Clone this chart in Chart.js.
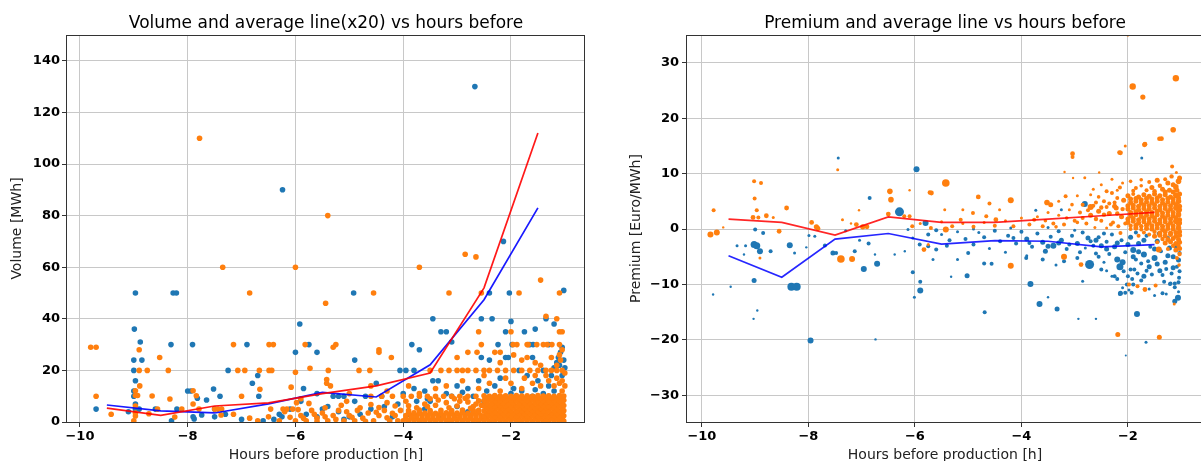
<!DOCTYPE html>
<html>
<head>
<meta charset="utf-8">
<script src="https://cdn.jsdelivr.net/npm/chart.js@4.4.1/dist/chart.umd.min.js"></script>
<style>
  body { margin: 0; background: #fff; width: 1201px; height: 461px; overflow: hidden; position: relative; }
  canvas { position: absolute; top: 0; }
  #volume { left: 0; }
  #premium { left: 600px; }
</style>
</head>
<body>
<canvas id="volume" width="600" height="461"></canvas>
<canvas id="premium" width="610" height="461"></canvas>
<script>
// hourly bins used for the average lines
const bins = [-9.5, -8.5, -7.5, -6.5, -5.5, -4.5, -3.5, -2.5, -1.5];
const volAvgRed = [5.4, 2.6, 6.2, 7.4, 11, 14, 19, 52, 112];
const volAvgBlue = [6.6, 4.3, 3.5, 7, 11.5, 9.7, 22.2, 47.4, 83];
const premAvgRed = [1.8, 1.2, -1.1, 2.2, 1.2, 1.2, 1.8, 2.4, 3.0];
const premAvgBlue = [-4.8, -8.7, -1.8, -0.8, -2.7, -2.1, -2.2, -3.2, -2.8];

const xTicks = [-10, -8, -6, -4, -2];
const volTicks = [0, 20, 40, 60, 80, 100, 120, 140];
const premTicks = [-30, -20, -10, 0, 10, 20, 30];

// volume scatter [hours, MWh]
const volBlue = [
  [-2.67,130],[-6.24,90],[-2.14,70],
  [-8.97,50],[-8.27,50],[-8.21,50],[-4.92,50],[-2.4,50],[-2.03,50],[-1.02,51],
  [-5.92,38],[-8.99,36],[-8.88,31],[-8.31,30],[-7.91,30],[-6.9,30],[-5.75,30],[-3.84,30],[-3.7,28],
  [-3.45,40],[-3.3,35],[-3.2,35],[-3.1,31],[-2.55,40],[-2.35,40],[-2.1,35],[-2.0,39],[-1.75,35],[-1.55,36],[-1.35,40],[-1.2,38],[-1.65,30],[-1.3,30],
  [-2.24,30],[-1.98,30],[-1.59,30],
  [-9.0,24],[-8.85,24],[-9.0,20],[-8.97,16],[-9.0,12],[-9.0,10],[-8.97,7],[-8.97,5],[-9.7,5],[-8.2,5],
  [-8.0,12],[-7.94,12],[-7.52,12.8],[-7.4,10],[-7.65,8.5],[-7.82,9.2],[-7.88,1.2],[-7.74,2.7],[-7.5,2],
  [-7.25,20],[-6.8,15],[-6.68,10],[-6.7,18],[-6.25,2],
  [-6.0,27],[-5.85,13],[-5.6,11],[-5.6,27],[-5.3,10],[-5.2,10],[-5.1,10],[-4.9,24],[-4.7,10],[-4.5,15],
  [-4.06,20],[-3.95,20],[-3.8,20],[-3.45,16],[-3.35,16],[-2.55,25],[-2.4,24],[-2.1,25],[-2.05,25],[-1.6,25],[-1.4,20],
  [-1.05,29],[-1.08,27],[-1.12,25],[-1.02,24],[-1.1,22],[-1.0,21],[-1.15,23],[-1.2,21],[-1.25,18],[-1.05,18],[-1.3,14],[-1.5,16],
  [-1.7,18],[-1.85,20],[-2.2,17],[-2.3,14],[-2.6,16],[-2.8,13],[-3.0,14],[-3.2,11],[-3.6,12],
  [-3.75,8],[-4.1,7],[-4.35,6],[-4.6,5],[-4.8,3],[-5.0,2],[-5.2,4],[-5.4,6],[-5.6,2],[-5.8,3],[-6.1,5],[-6.4,1],[-6.6,0.5],
  [-7.0,1],[-7.3,3],[-7.5,5],[-7.9,2],[-8.3,0.5],[-8.6,5],[-8.9,5],[-9.1,4],
  [-3.9,3],[-3.6,5],[-3.3,2],[-3.0,6],[-2.8,4],[-2.5,8],[-2.3,3],[-2.1,6],[-1.9,2],[-1.7,7],[-1.5,4],[-1.3,9],[-1.15,6],[-1.05,3],
  [-1.2,12],[-1.4,11],[-1.6,10],[-1.8,12],[-2.0,11],[-2.3,10],[-2.7,10],[-3.1,10],[-3.5,8],[-4.2,2],[-4.4,10],[-4.9,8],[-5.1,1],[-5.5,5],[-5.9,8],[-6.3,3],
  [-4.0,11],[-3.8,13],[-3.55,9],[-2.9,11.5],[-2.45,12],[-1.95,13],[-1.55,12.5]
];

const volOrange = [
  [-7.78,110],[-5.4,80],[-2.85,65],[-2.65,64],[-7.35,60],[-6.0,60],[-3.7,60],[-1.45,55],
  [-6.85,50],[-4.55,50],[-3.15,50],[-2.55,50],[-1.85,50],[-1.1,50],[-5.44,46],[-1.35,41],[-1.15,40],[-1.1,35],[-1.05,35],
  [-9.8,29],[-9.7,29],[-8.9,28],[-7.15,30],[-6.49,30],[-6.41,30],[-5.82,30],[-5.3,29],[-5.25,30],[-4.45,27],[-4.45,28],[-4.22,25],
  [-2.6,35],[-2.55,30],[-2.0,35],[-1.96,30],[-1.89,30],[-1.7,30],[-1.68,30],[-1.52,30],[-1.4,30],[-1.33,30],[-1.24,30],[-1.1,30],[-1.05,28],[-1.1,26],[-1.08,24],
  [-8.52,25],[-8.36,20],[-8.9,20],[-8.75,20],[-7.07,20],[-6.94,20],[-6.67,20],[-6.49,20],[-6.44,20],[-6.0,19.3],[-5.73,20.8],[-5.39,20],[-4.82,20],[-4.62,20],
  [-3.5,20],[-3.3,20],[-3.15,20],[-3.0,20],[-2.9,20],[-2.8,20],[-2.65,20],[-2.5,20],[-2.4,20],[-2.25,20],[-2.1,20],[-1.95,20],[-1.8,20],[-1.65,20],[-1.5,20],[-1.35,20],[-1.25,20],[-1.15,20],[-1.05,20],
  [-2.8,27],[-2.63,27],[-2.3,27],[-2.2,27],[-1.95,26],[-1.8,24],[-1.7,25],[-1.55,23],[-1.45,22],[-1.25,25],[-1.15,22],[-3.0,25],[-2.2,23],
  [-9.7,10],[-8.97,12.1],[-8.89,14],[-8.66,10.1],[-8.33,8.9],[-7.9,12.1],[-7.0,10],[-6.66,12.7],[-6.08,13.5],[-5.42,16.5],[-5.42,15],[-5.35,14],[-5.0,11],
  [-4.6,14],[-4.3,12],[-3.9,14],[-3.7,11],[-3.4,13],[-3.2,14],[-2.9,16],[-2.6,13],[-2.4,15],[-2.2,12],[-2.0,15],[-1.8,13],[-1.6,15],[-1.45,14],
  [-1.3,16],[-1.2,14],[-1.1,15],[-1.05,12],[-1.15,17],[-1.35,18],[-1.55,18],[-1.75,17],[-2.1,17],[-2.5,18],[-1.05,16],[-1.0,14],[-1.0,19],
  [-4.6,10],[-4.4,10],[-4.2,10],[-4.0,10],[-3.85,10],[-3.7,10],[-3.55,10],[-3.4,10],[-3.25,10],[-3.1,10],[-2.95,10],[-2.8,10],[-2.65,10],
  // sparse low area far from production
  [-9.42,3],[-9.0,0.5],[-8.97,2.3],[-8.97,3.5],[-8.97,6.2],[-8.97,10.3],[-8.93,10.3],[-8.72,3.2],[-8.56,5],[-8.24,1.9],[-8.11,5],
  [-7.9,7],[-7.84,10.2],[-7.79,5],[-7.5,5],[-7.44,5],[-7.37,5],[-7.38,2.7],[-6.46,5],[-6.23,5],[-6.16,5],[-6.05,5],[-5.98,7.5],
  [-5.9,9],[-6.85,1.5],[-7.15,3],[-6.7,0.5],
  // from -6 h to -4 h
  [-6.0,0.5],[-5.9,2.5],[-5.8,0.5],[-5.7,4.5],[-5.6,1.5],[-5.5,3.5],[-5.4,0.5],[-5.3,2.5],[-5.2,4.5],[-5.1,0.5],[-5.0,2.5],
  [-4.9,0.5],[-4.85,4.5],[-4.75,1.5],[-4.65,3.5],[-4.55,0.5],[-4.45,2.5],[-4.35,4.5],[-4.25,0.5],[-4.15,2.5],[-4.05,4.5],[-4.1,0.5],
  [-5.95,4.8],[-5.45,5.5],[-5.15,6.5],[-4.6,6.8],[-4.3,7.5],[-6.3,0.5],[-6.5,2],[-6.2,4],[-5.75,7.2],[-5.05,8],[-4.8,5.5],
  [-5.85,1.5],[-5.65,3],[-5.45,2],[-5.25,1],[-5.05,4],[-4.95,1.8],[-4.7,0.3],[-4.5,3.8],[-4.3,1.6],[-4.2,3.4],[-4.45,5.6],[-4.15,6.2],[-5.6,0.3],[-6.1,1.8],
  // from -4 h to -2.5 h
  [-4.0,0.5],[-3.9,0.5],[-3.8,0.5],[-3.7,0.5],[-3.6,0.5],[-3.5,0.5],[-3.4,0.5],[-3.3,0.5],[-3.2,0.5],[-3.1,0.5],[-3.0,0.5],[-2.9,0.5],[-2.8,0.5],[-2.7,0.5],[-2.6,0.5],
  [-3.95,1.5],[-3.85,1.6],[-3.75,1.4],[-3.65,1.5],[-3.55,1.6],[-3.45,1.4],[-3.35,1.5],[-3.25,1.6],[-3.15,1.4],[-3.05,1.5],[-2.95,1.6],[-2.85,1.4],[-2.75,1.5],[-2.65,1.6],[-2.55,1.4],
  [-3.95,2.5],[-3.85,2.5],[-3.75,2.4],[-3.65,2.6],[-3.55,2.5],[-3.45,2.4],[-3.35,2.6],[-3.25,2.5],[-3.15,2.4],[-3.05,2.6],[-2.95,2.5],[-2.85,2.4],[-2.75,2.6],[-2.65,2.5],[-2.55,2.4],
  [-3.9,3.5],[-3.8,3.6],[-3.7,3.4],[-3.6,3.5],[-3.5,3.6],[-3.4,3.4],[-3.3,3.5],[-3.2,3.6],[-3.1,3.4],[-3.0,3.5],[-2.9,3.6],[-2.8,3.4],[-2.7,3.5],[-2.6,3.6],
  [-3.9,4.4],[-3.7,4.6],[-3.5,4.4],[-3.3,4.5],[-3.1,4.4],[-2.9,4.6],[-2.7,4.4],[-2.6,4.5],
  [-3.4,6.5],[-3.2,7.5],[-3.0,6.2],[-2.8,7.8],[-2.7,6.0],[-2.6,8.2],[-3.6,7.0],[-3.9,6.3],
  [-3.95,8],[-3.75,5.5],[-3.55,6],[-3.35,8.5],[-3.15,5.5],[-2.95,8],[-2.75,5.3],[-2.55,6.5],[-3.05,9],[-3.5,9],[-2.85,9.2],[-2.65,7],
  // last hours, almost solid
  [-2.5,0.4],[-2.4,0.4],[-2.3,0.4],[-2.2,0.4],[-2.1,0.4],[-2.0,0.4],[-1.9,0.4],[-1.8,0.4],[-1.7,0.4],[-1.6,0.4],[-1.5,0.4],[-1.4,0.4],[-1.3,0.4],[-1.2,0.4],[-1.1,0.4],[-1.02,0.4],
  [-2.45,1.4],[-2.35,1.3],[-2.25,1.5],[-2.15,1.4],[-2.05,1.3],[-1.95,1.5],[-1.85,1.4],[-1.75,1.3],[-1.65,1.5],[-1.55,1.4],[-1.45,1.3],[-1.35,1.5],[-1.25,1.4],[-1.15,1.3],[-1.05,1.5],
  [-2.5,2.3],[-2.4,2.5],[-2.3,2.2],[-2.2,2.4],[-2.1,2.3],[-2.0,2.5],[-1.9,2.2],[-1.8,2.4],[-1.7,2.3],[-1.6,2.5],[-1.5,2.2],[-1.4,2.4],[-1.3,2.3],[-1.2,2.5],[-1.1,2.2],[-1.02,2.4],
  [-2.45,3.4],[-2.35,3.3],[-2.25,3.5],[-2.15,3.4],[-2.05,3.3],[-1.95,3.5],[-1.85,3.4],[-1.75,3.3],[-1.65,3.5],[-1.55,3.4],[-1.45,3.3],[-1.35,3.5],[-1.25,3.4],[-1.15,3.3],[-1.05,3.5],
  [-2.5,4.3],[-2.4,4.5],[-2.3,4.2],[-2.2,4.4],[-2.1,4.3],[-2.0,4.5],[-1.9,4.2],[-1.8,4.4],[-1.7,4.3],[-1.6,4.5],[-1.5,4.2],[-1.4,4.4],[-1.3,4.3],[-1.2,4.5],[-1.1,4.2],[-1.02,4.4],
  [-2.45,5.4],[-2.35,5.3],[-2.25,5.5],[-2.15,5.4],[-2.05,5.3],[-1.95,5.5],[-1.85,5.4],[-1.75,5.3],[-1.65,5.5],[-1.55,5.4],[-1.45,5.3],[-1.35,5.5],[-1.25,5.4],[-1.15,5.3],[-1.05,5.5],
  [-2.5,6.3],[-2.4,6.5],[-2.3,6.2],[-2.2,6.4],[-2.1,6.3],[-2.0,6.5],[-1.9,6.2],[-1.8,6.4],[-1.7,6.3],[-1.6,6.5],[-1.5,6.2],[-1.4,6.4],[-1.3,6.3],[-1.2,6.5],[-1.1,6.2],[-1.02,6.4],
  [-2.45,7.4],[-2.35,7.3],[-2.25,7.5],[-2.15,7.4],[-2.05,7.3],[-1.95,7.5],[-1.85,7.4],[-1.75,7.3],[-1.65,7.5],[-1.55,7.4],[-1.45,7.3],[-1.35,7.5],[-1.25,7.4],[-1.15,7.3],[-1.05,7.5],
  [-2.5,8.3],[-2.4,8.5],[-2.3,8.2],[-2.2,8.4],[-2.1,8.3],[-2.0,8.5],[-1.9,8.2],[-1.8,8.4],[-1.7,8.3],[-1.6,8.5],[-1.5,8.2],[-1.4,8.4],[-1.3,8.3],[-1.2,8.5],[-1.1,8.2],[-1.02,8.4],
  [-2.45,9.3],[-2.35,9.2],[-2.25,9.4],[-2.15,9.3],[-2.05,9.2],[-1.95,9.4],[-1.85,9.3],[-1.75,9.2],[-1.65,9.4],[-1.55,9.3],[-1.45,9.2],[-1.35,9.4],[-1.25,9.3],[-1.15,9.2],[-1.05,9.4],
  [-2.5,10.2],[-2.4,10],[-2.3,10.3],[-2.2,10.1],[-2.1,10.2],[-2.0,10],[-1.9,10.3],[-1.8,10.1],[-1.7,10.2],[-1.6,10],[-1.5,10.3],[-1.4,10.1],[-1.3,10.2],[-1.2,10],[-1.1,10.3],[-1.02,10.1]
];

// premium scatter [hours, Euro/MWh, dot radius]
const premBlue = [
  [-7.44,12.8,1.5],[-5.97,10.8,3],[-1.74,12.8,1.5],[-6.85,5.6,2],[-6.29,3.1,4.5],[-5.8,1.1,3],[-2.81,4.5,3],[-3.73,3.4,1.5],[-3.25,3.5,1.5],
  [-9.02,-2.8,3.5],[-8.97,-3.0,3.5],[-8.91,-4.0,3],[-9.34,-3.0,1.5],[-9.18,-3.0,1.5],[-9.21,-4.6,1.2],[-8.35,-2.9,3],[-8.26,-4.3,1.5],[-8.71,-4.0,2],[-9.0,-0.1,2],[-8.85,-0.7,2],
  [-9.02,-9.3,2.5],[-9.79,-11.8,1.2],[-9.46,-10.4,1.2],[-8.96,-14.7,1.2],[-9.03,-16.2,1.2],[-8.32,-10.4,4],[-8.22,-10.4,4],[-7.96,-20.1,3],[-6.74,-19.9,1.2],
  [-6.96,-7.2,3],[-6.71,-6.25,3],[-7.54,-4.3,2.5],[-7.48,-4.3,2],[-7.69,-2.95,2],[-7.99,-1.15,1.5],[-7.88,-1.3,1.5],[-8.04,-3.3,1.2],[-7.3,-0.3,1.5],
  [-7.04,-2.0,1.5],[-6.87,-2.6,2],[-6.75,-4.6,1.2],[-7.13,-4.0,2],[-6.38,-4.6,1.2],[-6.19,-4.0,1.2],
  [-6.04,-7.8,2],[-5.9,-9.5,2],[-5.9,-11.1,3],[-6.01,-12.3,1.5],[-6.13,-0.1,1.5],[-6.04,-1.6,1.5],[-5.91,-2.8,2],[-5.75,-3.1,2],[-5.6,-3.7,2],
  [-5.66,-5.5,1.5],[-5.0,-4.3,2],[-4.56,-6.25,2],[-3.91,-5.2,2],[-5.02,-8.4,2.5],[-5.32,-8.6,1.2],[-4.69,-15.0,2],[-3.83,-9.9,3],[-3.66,-13.5,3],
  [-3.33,-14.4,2.5],[-3.5,-12.3,1.2],[-2.93,-16.2,1.2],[-2.6,-16.2,1.2],[-1.83,-15.3,3],[-1.66,-20.4,1.5],[-2.04,-22.8,1],[-1.06,-12.4,3],[-1.12,-13.0,2.5],
  [-2.72,-6.4,4.5],[-2.85,-9.4,1.5],[-2.14,-11.6,2.5],[-1.93,-11.5,2],[-1.35,-11.6,2],[-1.21,-9.9,2],[-2.25,-8.5,2],[-1.95,-7.3,2],
  // band below zero
  [-5.5,-1.0,1.5],[-5.35,-2.0,2],[-5.2,-0.5,1.5],[-5.05,-1.8,2],[-4.9,-2.8,2],[-4.8,-0.6,1.5],[-4.7,-1.5,2],[-4.6,-3.5,1.5],[-4.5,-0.3,2],
  [-4.4,-2.2,2],[-4.25,-1.2,2],[-4.1,-2.6,2],[-4.0,-0.5,2],[-3.9,-1.8,2.5],[-3.8,-3.2,2],[-3.7,-0.8,2],[-3.6,-2.4,2.5],[-3.55,-4.0,2.5],
  [-3.45,-1.4,2],[-3.4,-3.0,3],[-3.3,-0.4,2],[-3.25,-2.0,2.5],[-3.15,-3.6,2],[-3.05,-1.2,2],[-2.95,-2.6,2.5],[-2.9,-4.2,2],[-2.85,-0.6,2],
  [-2.75,-1.6,2.5],[-2.65,-3.0,2],[-2.55,-5.0,2],[-3.6,-5.5,2],[-3.9,-4.8,1.5],[-4.3,-4.2,1.5],[-5.4,-3.0,2],[-4.7,-6.2,2],
  [-5.2,-5.5,1.5],[-3.2,-5.8,2],[-2.95,-5.2,2],[-2.5,-7.3,2],[-3.0,-0.2,1.5],[-3.5,0.3,1.5],[-4.2,0.2,1.5],[-4.9,0.0,1.5],[-5.6,-0.2,2],[-5.75,-1.0,2],[-3.35,-6.5,1.5],
  [-3.5,-3.1,2.5],[-3.3,-2.5,2.5],[-3.1,-2.8,2],[-2.6,-2.0,2.5],[-2.4,-3.6,2.5],[-2.45,-0.8,2],[-3.85,-2.5,2],[-4.15,-1.6,2],
  // last hours
  [-2.3,-1.0,2],[-2.25,-3.2,2.5],[-2.2,-5.5,3],[-2.15,-6.8,3.5],[-2.1,-6.0,3],[-2.12,-2.0,2],[-2.05,-4.2,2],[-2.0,-8.5,2],[-1.95,-1.5,2.5],
  [-1.9,-3.8,3],[-1.88,-7.3,2],[-1.85,-5.5,2],[-1.8,-2.6,2.5],[-1.75,-9.3,2],[-1.7,-4.6,3],[-1.65,-1.2,2],[-1.6,-6.8,2.5],[-1.58,-3.2,2],
  [-1.55,-8.2,2],[-1.5,-5.2,3],[-1.45,-2.2,2.5],[-1.4,-7.5,2.5],[-1.38,-4.0,2],[-1.32,-9.5,2],[-1.3,-6.0,2.5],[-1.25,-1.6,2],[-1.22,-3.4,2.5],
  [-1.18,-8.0,2],[-1.15,-5.0,2.5],[-1.12,-10.5,2],[-1.08,-6.8,2],[-1.06,-2.6,2],[-1.04,-8.8,2],[-1.03,-4.3,2],[-1.05,-11.3,1.5],
  [-2.02,-10.0,2],[-2.15,-11.7,2],[-2.05,-11.5,2],[-1.98,-11.0,1.5],[-2.1,-10.6,1.5],[-1.9,-10.0,2],[-1.28,-11.7,1.5],[-1.2,-9.8,2],[-1.12,-9.8,2],
  [-2.35,-4.5,2],[-2.4,-2.3,2],[-2.45,-6.0,1.5],[-2.5,-3.0,2.5],[-2.55,-1.5,2],[-2.6,-4.4,2],[-2.7,-2.2,2],[-2.8,-3.4,1.5],[-2.3,-8.5,1.5],
  [-2.4,-7.5,1.5],[-1.6,-10.8,1.5],[-1.5,-12.0,1.5],[-2.2,-9.0,2],[-1.42,-0.8,2],[-1.85,-0.6,2],[-1.7,-8.5,2.5],[-1.62,-5.8,2],[-1.75,-6.2,2],
  [-2.2,-2.5,2.5],[-2.0,-2.8,2.5],[-1.9,-5.0,2.5],[-1.8,-4.1,2.5],[-1.7,-2.0,2.5],[-1.65,-7.5,2],[-1.5,-3.6,2.5],[-1.45,-6.3,2.5],
  [-1.35,-8.3,2],[-1.25,-4.8,2.5],[-1.15,-7.0,2.5],[-1.1,-3.0,2.5],[-1.05,-5.6,2.5],[-1.03,-7.6,2],[-1.05,-9.6,2],[-1.28,-7.2,2],
  [-2.08,-7.6,2],[-1.92,-9.0,2],[-1.82,-8.0,2]
];

const premOrange = [
  [-1.1,27.2,3.2],[-1.91,25.7,3.2],[-1.72,23.8,2.6],[-1.15,17.9,2.8],[-1.37,16.3,2.4],[-1.68,15.3,2.4],[-2.05,15.0,1.5],[-2.14,13.75,2.4],
  [-3.04,13.6,2.4],[-3.04,13.0,2],[-1.17,11.3,2],[-2.81,9.25,1.5],[-3.19,10.3,1.2],[-2.54,10.2,1.2],[-1.09,10.2,1.5],[-2.0,35,1.5],
  [-5.42,8.3,3.8],[-9.02,8.6,2],[-8.89,8.3,2],[-7.45,10.7,1.5],[-6.47,6.8,2.8],[-6.45,5.3,2.8],[-5.69,6.5,2.4],[-6.1,7,1.2],
  [-4.81,5.8,2.4],[-4.2,5.2,3],[-4.6,4.6,2],[-3.52,4.8,2.8],[-3.45,4.4,2.5],[-3.17,5.9,2],[-3.03,9.2,1.2],
  [-9.78,3.4,2],[-9.01,5.5,2],[-8.97,3.4,2],[-8.41,3.8,2.4],[-8.79,2.4,2.4],[-9.04,2.1,2.4],[-8.94,2.1,2],[-8.66,2.1,1.5],
  [-9.84,-1.0,3],[-9.72,-0.6,3],[-9.6,0.3,1.2],[-8.55,-0.4,2.4],[-8.91,-5.2,1.5],
  [-7.94,1.2,2.4],[-7.85,0.4,2.6],[-7.82,0.1,2.4],[-7.39,-5.4,3.8],[-7.18,-5.4,3],[-7.36,1.7,1.5],[-7.2,1.0,1.2],
  [-7.1,0.8,2.4],[-6.98,0.4,2.6],[-6.9,0.4,2.4],[-7.05,3.4,1.2],[-6.5,2.7,2.4],[-6.2,2.3,2],[-6.1,2.3,2],
  [-5.72,6.6,2.2],[-5.83,-3.7,2.4],[-5.75,-2.8,1.5],[-5.42,-0.1,3],[-5.14,1.7,2],[-4.91,2.9,2],[-4.48,1.7,2.4],
  [-5.1,3.5,1.5],[-5.44,3.5,1.5],[-4.41,3.5,1.5],[-4.66,2.3,2],
  [-4.2,-6.6,3],[-3.76,1.7,2],[-3.2,-5.0,3],[-2.88,-6.4,2.4],[-2.7,4.0,3],[-2.25,4.1,2.5],[-2.14,-0.7,2],[-1.42,-3.7,3],
  [-1.68,-10.9,2.4],[-1.82,-10.3,2],[-1.48,-10.2,2],[-1.98,-10.0,2],[-2.19,-19.0,2.5],[-1.41,-19.5,2.5],[-1.13,-13.5,1.5],
  [-1.69,15.2,2.4],[-1.41,16.3,2.2],[-2.16,13.8,2.2],
  // cloud before the last hours
  [-2.78,1.0,2],[-2.7,2.5,2.5],[-2.62,0.3,1.5],[-2.55,3.2,2.5],[-2.5,1.5,2],[-2.45,5.0,2],[-2.4,0.2,1.5],[-2.35,2.8,2.5],[-2.3,6.5,2],
  [-2.28,1.2,2],[-2.22,3.8,2.5],[-2.18,0.5,2],[-2.15,7.5,2],[-2.12,2.2,2.5],[-2.08,5.2,2.5],[-2.05,1.0,2],[-2.6,4.8,2],[-2.4,4.0,2],
  [-2.25,4.8,2],[-2.7,6.2,1.5],[-2.5,8.0,1.5],[-2.9,3.0,2],[-3.0,1.5,2],[-3.1,3.5,1.5],[-3.2,0.8,2],[-3.3,2.5,1.5],[-3.4,1.0,2],
  [-3.5,3.0,1.5],[-3.6,0.5,2],[-3.7,2.2,1.5],[-3.85,0.8,2],[-4.0,2.0,1.5],[-4.15,0.5,2],[-4.3,1.5,1.5],[-4.5,0.6,2],[-4.7,1.2,1.5],
  [-4.9,0.4,2],[-5.1,1.0,1.5],[-5.3,0.5,2],[-5.5,1.3,1.5],[-5.7,0.2,2],[-5.9,1.0,1.5],[-6.05,0.5,2],[-2.95,6.0,1.5],[-3.3,5.0,1.5],
  [-2.85,4.4,2],[-2.65,7.2,1.5],[-2.4,6.8,2],
  [-2.75,3.4,2],[-2.6,1.8,2.2],[-2.45,2.6,2.2],[-2.32,0.8,2],[-2.2,2.8,2.2],[-2.1,3.6,2.2],[-2.35,4.6,2],[-2.55,5.8,1.8],[-2.2,5.6,2],
  [-2.95,1.2,1.8],[-3.15,2.0,1.8],[-3.35,0.4,1.8],[-3.55,1.5,1.8],[-3.05,4.4,1.8],[-2.85,2.0,2],[-2.65,4.2,2],[-2.5,3.9,2.2],
  // dense core of the last hours
  [-2.0,6.0,2.5],[-1.9,6.3,2],[-1.8,5.8,2.5],[-1.7,6.2,2.5],[-1.6,5.9,2.5],[-1.5,6.3,2.5],[-1.4,6.0,2.5],[-1.3,6.2,2.5],[-1.2,5.8,2.5],[-1.1,6.1,2.8],[-1.03,6.3,2.5],
  [-1.95,5.4,2.5],[-1.85,5.5,2.5],[-1.75,5.3,2.5],[-1.65,5.5,2.5],[-1.55,5.4,2.5],[-1.45,5.6,2.5],[-1.35,5.3,2.5],[-1.25,5.5,2.5],[-1.15,5.4,2.5],[-1.05,5.6,2.5],
  [-1.95,4.8,2.5],[-1.85,5.0,2.5],[-1.75,4.7,2.5],[-1.65,4.9,2.5],[-1.55,4.8,2.5],[-1.45,5.0,2.5],[-1.35,4.7,2.5],[-1.25,4.9,2.5],[-1.15,4.8,2.5],[-1.05,5.0,2.8],
  [-2.0,4.2,2.5],[-1.9,4.3,2.5],[-1.8,4.1,2.5],[-1.7,4.3,2.5],[-1.6,4.2,2.5],[-1.5,4.4,2.5],[-1.4,4.1,2.5],[-1.3,4.3,2.5],[-1.2,4.2,2.5],[-1.1,4.4,2.5],[-1.03,4.1,2.5],
  [-2.0,3.6,2.5],[-1.9,3.8,2.5],[-1.8,3.5,2.5],[-1.7,3.7,2.5],[-1.6,3.6,2.5],[-1.5,3.8,2.5],[-1.4,3.5,2.5],[-1.3,3.7,2.5],[-1.2,3.6,2.5],[-1.1,3.8,2.8],[-1.03,3.5,2.5],
  [-1.95,3.0,2.5],[-1.85,3.1,2.5],[-1.75,2.9,2.5],[-1.65,3.1,2.5],[-1.55,3.0,2.5],[-1.45,3.2,2.5],[-1.35,2.9,2.5],[-1.25,3.1,2.5],[-1.15,3.0,2.5],[-1.05,3.2,2.5],
  [-1.95,2.4,2.5],[-1.85,2.6,2.5],[-1.75,2.3,2.5],[-1.65,2.5,2.5],[-1.55,2.4,2.5],[-1.45,2.6,2.5],[-1.35,2.3,2.5],[-1.25,2.5,2.5],[-1.15,2.4,2.5],[-1.05,2.6,2.8],
  [-2.0,1.8,2.5],[-1.9,1.9,2.5],[-1.8,1.7,2.5],[-1.7,1.9,2.5],[-1.6,1.8,2.5],[-1.5,2.0,2.5],[-1.4,1.7,2.5],[-1.3,1.9,2.5],[-1.2,1.8,2.5],[-1.1,2.0,2.5],[-1.03,1.7,2.5],
  [-2.0,1.2,2.5],[-1.9,1.4,2.5],[-1.8,1.1,2.5],[-1.7,1.3,2.5],[-1.6,1.2,2.5],[-1.5,1.4,2.5],[-1.4,1.1,2.5],[-1.3,1.3,2.5],[-1.2,1.2,2.5],[-1.1,1.4,2.8],[-1.03,1.1,2.5],
  [-1.95,0.6,2.2],[-1.85,0.7,2.5],[-1.75,0.5,2.2],[-1.65,0.7,2.5],[-1.55,0.6,2.5],[-1.45,0.8,2.5],[-1.35,0.5,2.5],[-1.25,0.7,2.5],[-1.15,0.6,2.5],[-1.05,0.8,2.5],
  [-1.95,0.0,2],[-1.85,0.2,2.5],[-1.75,-0.1,2],[-1.65,0.1,2.5],[-1.55,0.0,2.5],[-1.45,0.2,2.5],[-1.35,-0.1,2.5],[-1.25,0.1,2.5],[-1.15,0.0,2.5],[-1.05,0.2,2.8],
  [-1.7,-0.6,2],[-1.5,-0.5,2.2],[-1.4,-0.7,2.5],[-1.3,-0.5,2.5],[-1.2,-0.7,2.5],[-1.1,-0.6,2.5],[-1.03,-0.5,2.5],
  [-1.8,-1.2,2],[-1.6,-1.0,2],[-1.5,-1.3,2.5],[-1.4,-1.1,2.5],[-1.3,-1.2,2.5],[-1.2,-1.0,2.5],[-1.1,-1.3,2.5],[-1.03,-1.1,2.5],
  [-1.35,-1.8,2.2],[-1.25,-1.9,2.5],[-1.15,-1.7,2.5],[-1.05,-1.9,2.5],
  [-1.45,-2.4,2],[-1.3,-2.5,2.5],[-1.2,-2.3,2.5],[-1.1,-2.6,2.5],[-1.03,-2.4,2.5],
  [-1.25,-3.6,2],[-1.1,-3.8,2.5],[-1.03,-3.5,2.5],[-1.15,-3.0,2.2],[-1.05,-3.0,2.2],[-1.08,-5.2,2],[-1.04,-6.5,1.8],[-1.03,-4.5,2.2],
  [-1.55,7.5,2.5],[-1.45,8.8,2.5],[-1.35,7.2,2.5],[-1.25,8.3,2.5],[-1.18,9.5,2.2],[-1.1,7.6,2.8],[-1.05,8.6,2.8],[-1.03,9.2,2.5],
  [-1.15,8.0,2.5],[-1.4,7.8,2.2],[-1.3,9.0,2],[-1.6,8.5,2],[-1.08,7.0,2.5],[-1.22,7.0,2.5],[-1.5,6.8,2.3],[-1.3,6.7,2.5],[-1.15,6.7,2.5],
  [-1.95,8.6,1.8],[-1.85,7.4,2],[-1.75,8.9,1.8],[-1.65,7.0,2],[-2.1,8.3,1.5],[-2.2,7.0,1.5],[-2.3,9.0,1.5],[-1.9,6.9,2],[-1.75,7.8,1.8]
];

Chart.defaults.font.family = 'DejaVu Sans';
Chart.defaults.color = '#000';

const gridColor = '#c8c8c8';
const minus = v => String(v).replace('-', '\u2212');
const points = list => list.map(p => ({ x: p[0], y: p[1], r: p[2] }));
const line = ys => bins.map((x, i) => ({ x: x, y: ys[i] }));

// matplotlib style box round the plot
const frame = {
  id: 'frame',
  afterDatasetsDraw(chart) {
    const { ctx, chartArea: a } = chart;
    ctx.save();
    ctx.strokeStyle = '#333';
    ctx.lineWidth = 1;
    const l = Math.round(a.left) - 0.5, t = Math.round(a.top) + 0.5;
    const r = Math.round(a.right) - 0.5, b = Math.round(a.bottom) + 0.5;
    ctx.strokeRect(l, t, r - l, b - t);
    ctx.restore();
  }
};

function options(cfg) {
  return {
    responsive: false,
    animation: false,
    events: [],
    layout: { padding: { left: 0, top: 0, right: cfg.padRight, bottom: 0 } },
    plugins: {
      legend: { display: false },
      tooltip: { enabled: false },
      title: {
        display: true, text: cfg.title, fullSize: false, color: '#000',
        font: { size: 17, weight: 'normal', lineHeight: 1.2 },
        padding: { top: 13.8, bottom: 0.8 }
      }
    },
    scales: {
      x: {
        type: 'linear', position: 'bottom', min: cfg.xMin, max: cfg.xMax,
        afterFit: s => { s.height = 39; },
        afterBuildTicks: s => { s.ticks = xTicks.map(v => ({ value: v })); },
        border: { display: false },
        grid: { color: gridColor, lineWidth: 1, tickLength: 5, tickColor: '#333' },
        ticks: { padding: 2, color: '#000', font: { size: 13, weight: 'bold' }, callback: v => minus(v) },
        title: { display: true, text: 'Hours before production [h]', color: '#222',
                 font: { size: 14, lineHeight: 1 }, padding: { top: 0, bottom: -1 } }
      },
      y: {
        type: 'linear', position: 'left', min: cfg.yMin, max: cfg.yMax,
        afterFit: s => { s.width = cfg.yWidth; },
        afterBuildTicks: s => { s.ticks = cfg.yTicks.map(v => ({ value: v })); },
        border: { display: false },
        grid: { color: gridColor, lineWidth: 1, tickLength: 5, tickColor: '#333' },
        ticks: { padding: cfg.yPad, color: '#000', font: { size: 13, weight: 'bold' }, callback: v => minus(v) },
        title: { display: true, text: cfg.yTitle, color: '#222',
                 font: { size: 14, lineHeight: 1 }, padding: { top: cfg.yTitlePad, bottom: 0 } }
      }
    }
  };
}

function avgSet(ys, color, order) {
  return { type: 'line', data: line(ys), borderColor: color, borderWidth: 1.7,
           pointRadius: 0, fill: false, tension: 0, order: order };
}

new Chart(document.getElementById('volume'), {
  type: 'scatter',
  data: {
    datasets: [
      avgSet(volAvgRed, 'rgba(255,0,0,0.9)', 0),
      avgSet(volAvgBlue, 'rgba(0,0,255,0.9)', 1),
      { type: 'scatter', data: points(volOrange), backgroundColor: '#ff7f0e', borderWidth: 0, pointRadius: 2.8, order: 2, clip: 0 },
      { type: 'scatter', data: points(volBlue), backgroundColor: '#1f77b4', borderWidth: 0, pointRadius: 2.8, order: 3, clip: 0 }
    ]
  },
  options: options({
    title: 'Volume and average line(x20) vs hours before',
    xMin: -10.24, xMax: -0.626, yMin: 0, yMax: 150, yTicks: volTicks,
    yTitle: 'Volume [MWh]', yWidth: 67, yPad: 2, yTitlePad: 10.5, padRight: 15
  }),
  plugins: [frame]
});

new Chart(document.getElementById('premium'), {
  type: 'scatter',
  data: {
    datasets: [
      avgSet(premAvgRed, 'rgba(255,0,0,0.85)', 0),
      avgSet(premAvgBlue, 'rgba(0,0,255,0.85)', 1),
      { type: 'scatter', data: points(premOrange), backgroundColor: '#ff7f0e', borderWidth: 0,
        pointRadius: c => c.raw.r, order: 2, clip: 0 },
      { type: 'scatter', data: points(premBlue), backgroundColor: '#1f77b4', borderWidth: 0,
        pointRadius: c => c.raw.r, order: 3, clip: 0 }
    ]
  },
  options: options({
    title: 'Premium and average line vs hours before',
    xMin: -10.28, xMax: -0.59, yMin: -34.8, yMax: 35, yTicks: premTicks,
    yTitle: 'Premium [Euro/MWh]', yWidth: 87, yPad: 3, yTitlePad: 29, padRight: 7
  }),
  plugins: [frame]
});
</script>
</body>
</html>
